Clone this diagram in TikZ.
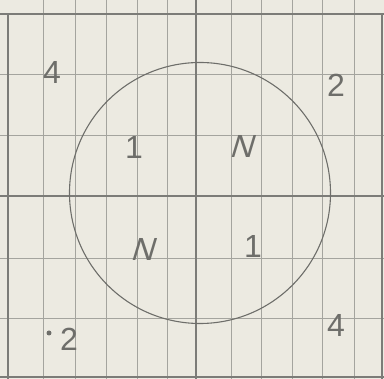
\documentclass[tikz,border=0pt]{standalone}
\usepackage{fontspec}
\setmainfont{Liberation Sans}
\definecolor{paper}{HTML}{ECEAE1}
\definecolor{gridc}{HTML}{A4A49E}
\definecolor{majorc}{HTML}{7C7C78}
\definecolor{pencil}{HTML}{6E6E6A}
\begin{document}
\begin{tikzpicture}[x=1pt,y=-1pt,
  minorline/.style={draw=gridc,line width=0.7pt},
  majorline/.style={draw=majorc,line width=1.2pt},
  hand/.style={text=pencil,font=\fontsize{32}{32}\selectfont,inner sep=0pt}]
\fill[paper] (0,0) rectangle (384,379);
\useasboundingbox (0,0) rectangle (384,379);
% minor vertical lines
\foreach \x in {43,75,106,137,167,231,261,292,322,354}
  \draw[minorline] (\x,0) -- (\x,379);
% minor horizontal lines
\foreach \y in {74,135,258,318}
  \draw[minorline] (0,\y) -- (384,\y);
% major lines
\draw[majorline] (8,14) -- (8,379);
\draw[majorline] (0,14) -- (384,14);
\draw[majorline] (196,0) -- (196,379);
\draw[majorline] (0,196) -- (384,196);
\draw[majorline] (382,14) -- (382,379);
\draw[majorline] (0,377) -- (384,377);
% circle
\node[draw=pencil,line width=1.1pt,circle,minimum size=261pt,inner sep=0pt] (circ) at (200,193) {};
% labels
\node[hand] (tl) at (52,72) {4};
\node[hand] (tr) at (336,85) {2};
\node[hand] (a1) at (134,147) {1};
\node[hand,xslant=0.3] (aN) at (244,146) {N};
\node[hand,xslant=0.3] (bN) at (145,249) {N};
\node[hand] (b1) at (253,246) {1};
\node[circle,fill=pencil,inner sep=0pt,minimum size=5pt] (dot) at (49,333) {};
\node[hand] (bl) at (69,339) {2};
\node[hand] (br) at (336,325) {4};
\end{tikzpicture}
\end{document}
